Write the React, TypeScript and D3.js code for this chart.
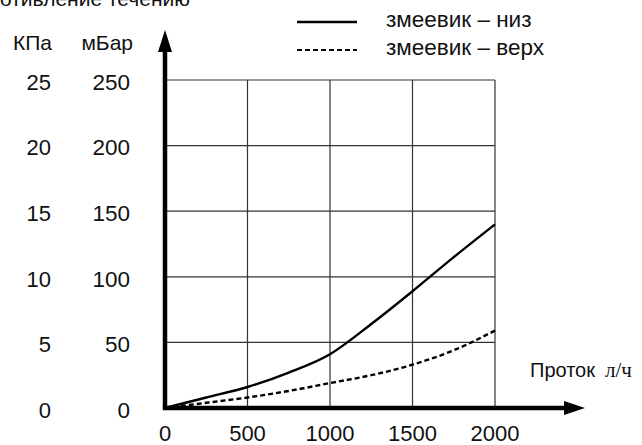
import React from "react";
import * as d3 from "d3";

const flows = [0, 250, 500, 750, 1000, 1250, 1500, 1750, 2000];
const lowerCoil = [0, 8, 16, 27, 41, 64, 89, 115, 140];
const upperCoil = [0, 4, 8, 13, 19, 25, 33, 44, 59];
const xTicks = [0, 500, 1000, 1500, 2000];
const mbarTicks = [0, 50, 100, 150, 200, 250];
const kpaTicks = [0, 5, 10, 15, 20, 25];
const seriesNames = ["змеевик – низ", "змеевик – верх"];

const W = 642;
const H = 445;
const FONT = "'Liberation Sans', Arial, Helvetica, sans-serif";

export default function App() {
  const x = d3.scaleLinear().domain([0, 2000]).range([165, 495]);
  const y = d3.scaleLinear().domain([0, 250]).range([408, 80]);
  const line = d3
    .line<number>()
    .x((_, i) => x(flows[i]))
    .y((d) => y(d))
    .curve(d3.curveMonotoneX);

  const x0 = x(0);
  const y0 = y(0);

  return (
    <svg
      width={W}
      height={H}
      style={{ position: "absolute", left: 0, top: 0, background: "#fff" }}
      fontFamily={FONT}
    >
      <rect x={0} y={0} width={W} height={H} fill="#fff" />
      {/* cut-off title */}
      <text x={190} y={6} fontSize={21} textAnchor="end" fill="#111">
        Сопротивление течению
      </text>

      {/* grid */}
      {mbarTicks.slice(1).map((t) => (
        <line key={"h" + t} x1={x0} x2={x(2000)} y1={y(t)} y2={y(t)} stroke="#333" strokeWidth={1.2} />
      ))}
      {xTicks.slice(1).map((t) => (
        <line key={"v" + t} x1={x(t)} x2={x(t)} y1={y(250)} y2={y0} stroke="#333" strokeWidth={1.2} />
      ))}

      {/* curves */}
      <path d={line(lowerCoil) || ""} fill="none" stroke="#000" strokeWidth={2.4} />
      <path d={line(upperCoil) || ""} fill="none" stroke="#000" strokeWidth={2.4} strokeDasharray="5,3" />

      {/* axes */}
      <line x1={x0} x2={x0} y1={y0 + 2} y2={50} stroke="#000" strokeWidth={4.5} />
      <path d={`M${x0 - 7},${52} L${x0},${30} L${x0 + 7},${52} Z`} fill="#000" />
      <line x1={x0 - 2} x2={566} y1={y0} y2={y0} stroke="#000" strokeWidth={4.5} />
      <path d={`M${564},${y0 - 7} L${585},${y0} L${564},${y0 + 7} Z`} fill="#000" />

      {/* y labels */}
      <text x={52} y={50} fontSize={21} textAnchor="end" fill="#111">КПа</text>
      <text x={133} y={50} fontSize={21} textAnchor="end" fill="#111">мБар</text>
      {kpaTicks.map((t, i) => (
        <text key={"k" + t} x={51} y={y(mbarTicks[i]) + 2} dy="0.35em" fontSize={22} textAnchor="end" fill="#111">
          {t}
        </text>
      ))}
      {mbarTicks.map((t) => (
        <text key={"m" + t} x={130} y={y(t) + 2} dy="0.35em" fontSize={22.5} textAnchor="end" fill="#111">
          {t}
        </text>
      ))}

      {/* x labels */}
      {xTicks.map((t) => (
        <text key={"x" + t} x={x(t)} y={441} fontSize={22} textAnchor="middle" fill="#111">
          {t}
        </text>
      ))}
      <text x={530} y={377} fontSize={20} fill="#111">
        Проток
        <tspan dx={10} fontFamily="'Liberation Serif', 'Times New Roman', serif" fontSize={21}>
          л/ч
        </tspan>
      </text>

      {/* legend */}
      <line x1={297} x2={357} y1={22} y2={22} stroke="#000" strokeWidth={2.4} />
      <line x1={297} x2={357} y1={50} y2={50} stroke="#000" strokeWidth={2.2} strokeDasharray="5,3" />
      <text x={386} y={27} fontSize={22.5} fill="#111">{seriesNames[0]}</text>
      <text x={386} y={55} fontSize={22.5} fill="#111">{seriesNames[1]}</text>
    </svg>
  );
}
